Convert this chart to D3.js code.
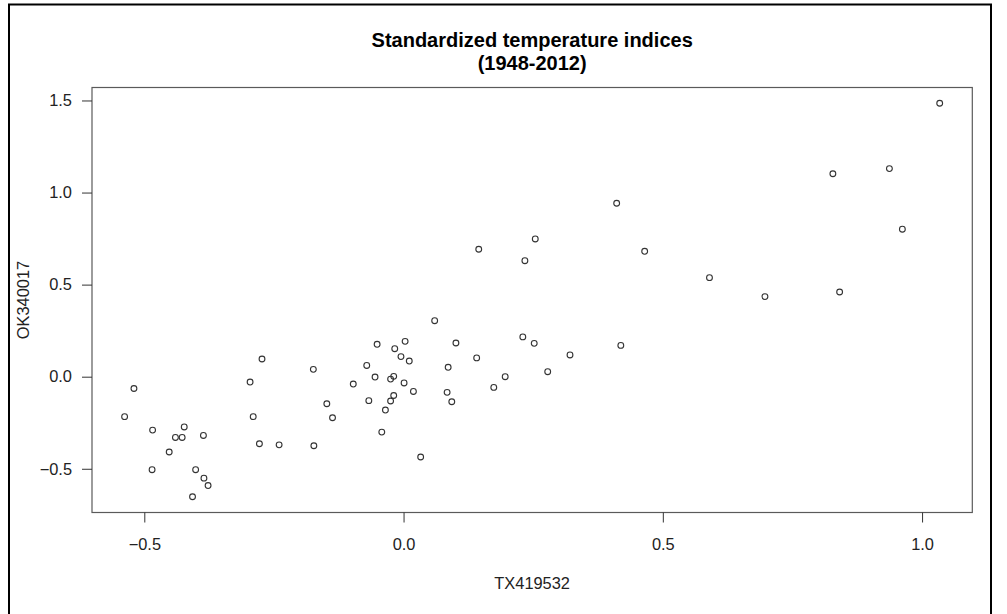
<!DOCTYPE html>
<html>
<head>
<meta charset="utf-8">
<script src="https://cdn.jsdelivr.net/npm/d3@7"></script>
<style>
  html, body { margin: 0; padding: 0; background: #fff; }
  svg { display: block; }
  text { font-family: "Liberation Sans", Arial, Helvetica, sans-serif; }
</style>
</head>
<body>
<div id="chart"></div>
<script>
// Standardized annual temperature indices for two stations, 1948-2012
const tx419532 = [
  -0.520, -0.538, -0.484, -0.423, -0.440, -0.427, -0.386, -0.452, -0.485, -0.401,
  -0.385, -0.377, -0.407, -0.273, -0.296, -0.174, -0.290, -0.278, -0.240, -0.173,
  -0.148, -0.137, -0.097, -0.071, -0.051, -0.055, -0.067, -0.042, -0.035, -0.025,
  -0.019, -0.025, -0.019, -0.017, -0.005,  0.003,  0.011,  0.001,  0.019,  0.033,
   0.060,  0.101,  0.086,  0.084,  0.093,  0.141,  0.174,  0.196,  0.230,  0.252,
   0.278,  0.321,  0.419,  0.145,  0.254,  0.234,  0.411,  0.465,  0.590,  0.697,
   1.034,  0.937,  0.828,  0.962,  0.841
];
const ok340017 = [
  -0.064, -0.217, -0.290, -0.273, -0.330, -0.330, -0.319, -0.409, -0.505, -0.505,
  -0.551, -0.591, -0.652,  0.096, -0.029,  0.040, -0.217, -0.364, -0.370, -0.375,
  -0.147, -0.223, -0.040,  0.061,  0.176, -0.002, -0.130, -0.301, -0.181, -0.132,
  -0.102, -0.013,  0.002,  0.152,  0.109,  0.192,  0.085, -0.034, -0.080, -0.436,
   0.304,  0.183,  0.051, -0.085, -0.136,  0.102, -0.058,  0.000,  0.216,  0.181,
   0.027,  0.118,  0.170,  0.692,  0.748,  0.630,  0.942,  0.681,  0.538,  0.435,
   1.485,  1.130,  1.102,  0.801,  0.460
];
const xTicks = [-0.5, 0.0, 0.5, 1.0];
const yTicks = [-0.5, 0.0, 0.5, 1.0, 1.5];
const titleLines = ["Standardized temperature indices", "(1948-2012)"];
const xLabel = "TX419532";
const yLabel = "OK340017";

const W = 1007, H = 614;
const plot = { left: 92, right: 972.3, top: 87.5, bottom: 512.5 };

// extend each data range by 4% on both sides
function padded(values) {
  const [lo, hi] = d3.extent(values);
  const pad = (hi - lo) * 0.04;
  return [lo - pad, hi + pad];
}

const x = d3.scaleLinear().domain(padded(tx419532)).range([plot.left, plot.right]);
const y = d3.scaleLinear().domain(padded(ok340017)).range([plot.bottom, plot.top]);

const svg = d3.select("#chart").append("svg")
  .attr("width", W).attr("height", H);

svg.append("rect").attr("width", W).attr("height", H).attr("fill", "#fff");

// figure frame
svg.append("path")
  .attr("d", `M9,${H} V4.5 H991 V${H}`)
  .attr("fill", "none").attr("stroke", "#000").attr("stroke-width", 2);

// plot box
svg.append("rect")
  .attr("x", plot.left).attr("y", plot.top)
  .attr("width", plot.right - plot.left).attr("height", plot.bottom - plot.top)
  .attr("fill", "none").attr("stroke", "#5a5a5a").attr("stroke-width", 1.2);

const fmt = d3.format(".1f");
const axisFont = 16.4;

// x axis
const xAxis = svg.append("g")
  .attr("transform", `translate(0,${plot.bottom})`)
  .call(d3.axisBottom(x).tickValues(xTicks).tickSize(10).tickPadding(16).tickFormat(fmt));
xAxis.select(".domain").remove();
xAxis.selectAll(".tick line").attr("stroke", "#333");
xAxis.selectAll(".tick text")
  .attr("fill", "#222").style("font-size", axisFont + "px")
  .style("font-family", '"Liberation Sans", Arial, sans-serif');

// y axis
const yAxis = svg.append("g")
  .attr("transform", `translate(${plot.left},0)`)
  .call(d3.axisLeft(y).tickValues(yTicks).tickSize(10).tickPadding(10).tickFormat(fmt));
yAxis.select(".domain").remove();
yAxis.selectAll(".tick line").attr("stroke", "#333");
yAxis.selectAll(".tick text")
  .attr("fill", "#222").style("font-size", axisFont + "px")
  .style("font-family", '"Liberation Sans", Arial, sans-serif');

// points
svg.append("g")
  .selectAll("circle")
  .data(tx419532.map((v, i) => [v, ok340017[i]]))
  .join("circle")
  .attr("cx", d => x(d[0]))
  .attr("cy", d => y(d[1]))
  .attr("r", 2.9)
  .attr("fill", "none")
  .attr("stroke", "#333")
  .attr("stroke-width", 1.1);

// title
const cx = (plot.left + plot.right) / 2;
svg.append("text")
  .attr("x", cx).attr("y", 46.5)
  .attr("text-anchor", "middle")
  .style("font-size", "20px").style("font-weight", "bold").attr("fill", "#000")
  .text(titleLines[0]);
svg.append("text")
  .attr("x", cx).attr("y", 69.5)
  .attr("text-anchor", "middle")
  .style("font-size", "20px").style("font-weight", "bold").attr("fill", "#000")
  .text(titleLines[1]);

// axis titles
svg.append("text")
  .attr("x", cx).attr("y", 589)
  .attr("text-anchor", "middle")
  .style("font-size", axisFont + "px").attr("fill", "#222")
  .text(xLabel);
svg.append("text")
  .attr("transform", `translate(28.5,${(plot.top + plot.bottom) / 2}) rotate(-90)`)
  .attr("text-anchor", "middle")
  .style("font-size", axisFont + "px").attr("fill", "#222")
  .text(yLabel);
</script>
</body>
</html>
